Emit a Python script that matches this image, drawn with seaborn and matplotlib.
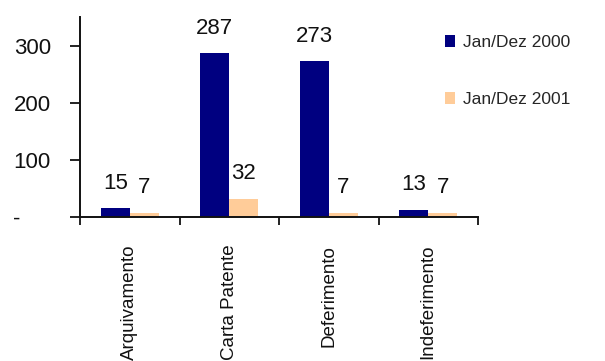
import matplotlib
matplotlib.use("Agg")
import matplotlib.pyplot as plt
import seaborn as sns
import pandas as pd
from matplotlib.ticker import FixedLocator, NullFormatter, FixedFormatter

categorias = ["Arquivamento", "Carta Patente", "Deferimento", "Indeferimento"]
serie_2000 = [15, 287, 273, 13]
serie_2001 = [7, 32, 7, 7]
series = ["Jan/Dez 2000", "Jan/Dez 2001"]
y_ticks = [0, 100, 200, 300]
y_tick_labels = ["-     ", "100", "200", "300"]

df = pd.DataFrame({
    "categoria": categorias * 2,
    "valor": serie_2000 + serie_2001,
    "periodo": [series[0]] * len(categorias) + [series[1]] * len(categorias),
})

sns.set_style("ticks")
plt.rcParams["font.family"] = ["Liberation Sans", "DejaVu Sans"]

fig = plt.figure(figsize=(6.05, 3.61), dpi=100)
ax = fig.add_axes([80 / 605, 1 - 217 / 361, 398 / 605, 200 / 361])

sns.barplot(data=df, x="categoria", y="valor", hue="periodo",
            palette=["#000080", "#FFCC99"], width=0.58, saturation=1,
            linewidth=0, ax=ax)

for cont in ax.containers:
    ax.bar_label(cont, fmt="%d", padding=10.5, fontsize=16, color="#111111")

ax.set_ylim(0, 351)
ax.set_xlim(-0.5, len(categorias) - 0.5)
ax.yaxis.set_major_locator(FixedLocator(y_ticks))
ax.yaxis.set_major_formatter(FixedFormatter(y_tick_labels))
ax.tick_params(axis="y", labelsize=16, length=7, width=1.3, pad=14, colors="#111111")

ax.xaxis.set_major_locator(FixedLocator([i - 0.5 for i in range(len(categorias) + 1)]))
ax.xaxis.set_major_formatter(NullFormatter())
ax.xaxis.set_minor_locator(FixedLocator(list(range(len(categorias)))))
ax.xaxis.set_minor_formatter(FixedFormatter(categorias))
ax.tick_params(axis="x", which="major", length=6, width=1.3, colors="#111111")
ax.tick_params(axis="x", which="minor", length=0, pad=20, labelsize=13.5,
               labelrotation=90, colors="#111111")
ax.set_xlabel("")
ax.set_ylabel("")

for s in ["top", "right"]:
    ax.spines[s].set_visible(False)
for s in ["left", "bottom"]:
    ax.spines[s].set_linewidth(1.4)
    ax.spines[s].set_color("#111111")

ax.legend(title=None, frameon=False, loc="upper left",
          bbox_to_anchor=(445 / 605, 1 - 35 / 361), bbox_transform=fig.transFigure,
          borderaxespad=0, borderpad=0, handlelength=0.6, handleheight=0.7,
          handletextpad=0.45, labelspacing=2.4, fontsize=12.5)

fig.savefig("out.png", dpi=100, facecolor="white")
